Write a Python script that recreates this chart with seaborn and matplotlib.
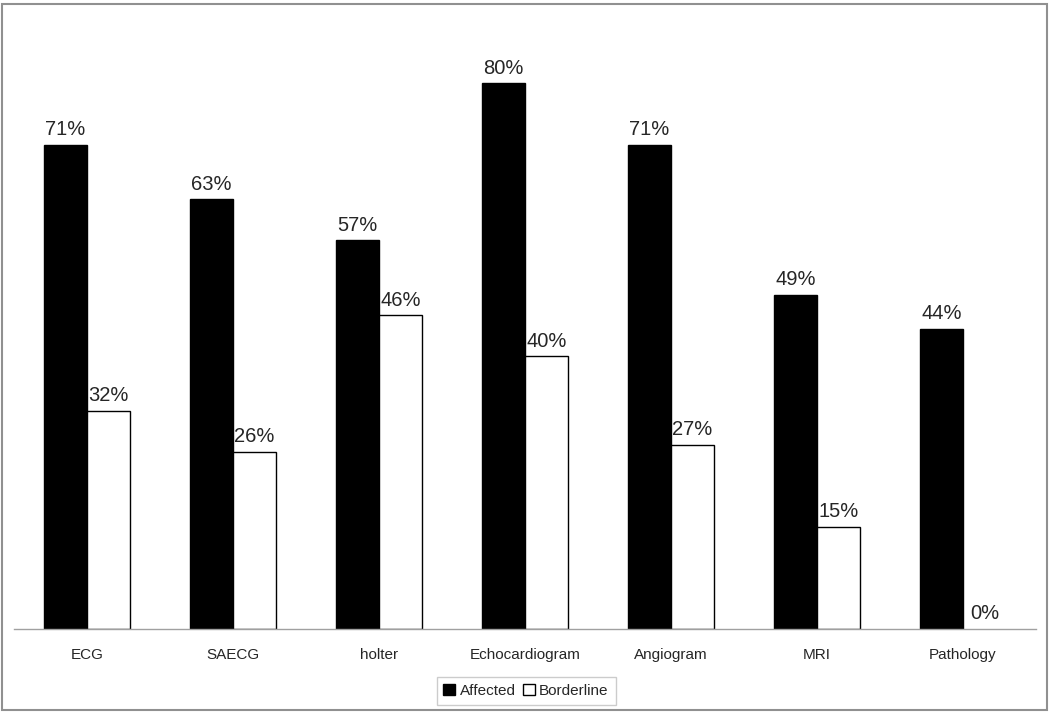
import pandas as pd
import seaborn as sns
import matplotlib.pyplot as plt
from matplotlib.patches import Rectangle

# Данные
tests = ['ECG', 'SAECG', 'holter', 'Echocardiogram', 'Angiogram', 'MRI', 'Pathology']
affected = [71, 63, 57, 80, 71, 49, 44]
borderline = [32, 26, 46, 40, 27, 15, 0]
groups = ['Affected', 'Borderline']

df = pd.DataFrame({
    'test': tests * 2,
    'group': [groups[0]] * len(tests) + [groups[1]] * len(tests),
    'value': affected + borderline,
})

sns.set_style('white')
plt.rcParams['font.family'] = ['Liberation Sans', 'DejaVu Sans']

fig = plt.figure(figsize=(10.5, 7.14), dpi=100)
ax = fig.add_axes([0.0133, 0.119, 0.9734, 0.86])

sns.barplot(
    data=df, x='test', y='value', hue='group',
    palette=['black', 'white'], edgecolor='black', linewidth=1,
    width=0.59, ax=ax, legend=True,
)

for cont in ax.containers:
    for bar in cont:
        if bar.get_height() == 0:
            bar.set_linewidth(0)
    ax.bar_label(cont, fmt='%d%%', padding=4, fontsize=14.5)

ax.set_ylim(0, 90)
ax.set_xlim(-0.5, len(tests) - 0.5)
ax.set_yticks([])
ax.set_xlabel('')
ax.set_ylabel('')
for s in ['left', 'top', 'right']:
    ax.spines[s].set_visible(False)
ax.spines['bottom'].set_color('#a0a0a0')
ax.spines['bottom'].set_linewidth(1)

ax.tick_params(axis='x', which='major', length=0, pad=14, labelsize=11)
ax.set_xticks([i - 0.5 for i in range(len(tests) + 1)], minor=True)
ax.tick_params(axis='x', which='minor', length=5, color='#a0a0a0', width=1)

ax.legend_.remove()
h, l = ax.get_legend_handles_labels()
fig.legend(h, l, loc='lower center', bbox_to_anchor=(0.501, 0.004), ncol=2,
           frameon=True, fancybox=False, edgecolor='#c0c0c0', fontsize=11,
           handlelength=0.75, handleheight=0.75, handletextpad=0.3,
           columnspacing=0.5, borderpad=0.45, borderaxespad=0.4)

# рамка вокруг всей картинки
fig.patches.append(Rectangle((0.002, 0.006), 0.995, 0.988, transform=fig.transFigure,
                             fill=False, edgecolor='#909090', linewidth=1.5))

fig.savefig('out.png', dpi=100)
